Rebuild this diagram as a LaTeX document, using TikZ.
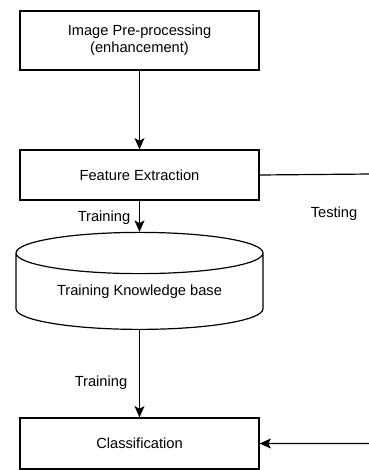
\documentclass[tikz,border=0pt]{standalone}
\usepackage{fontspec}
\setmainfont{Liberation Sans}
\usetikzlibrary{arrows.meta,shapes.geometric}
\tikzstyle{stage}=[draw,line width=0.9pt,minimum width=179.25pt,inner sep=0pt,font=\fontsize{11}{13}\selectfont,align=center]
\tikzstyle{store}=[draw,line width=0.9pt,cylinder,shape border rotate=90,aspect=0.25,minimum width=185.25pt,minimum height=72.75pt,inner sep=0pt,font=\fontsize{11}{13}\selectfont]
\tikzstyle{arrow}=[draw,line width=0.9pt,-{Stealth[length=8.5pt,width=7.5pt,inset=2pt]}]
\tikzstyle{flow}=[font=\fontsize{11}{13}\selectfont]

\begin{document}
\begin{tikzpicture}[x=0.75pt,y=-0.75pt]
    \useasboundingbox (0,0) rectangle (368,470);
    \node[stage,minimum height=44.25pt] (pre) at (139.5,40.5) {Image Pre-processing\\(enhancement)};
    \node[stage,minimum height=37.5pt] (fe) at (139.5,175) {Feature Extraction};
    \node[store] (kb) at (139.5,291.5) {Training Knowledge base};
    \node[stage,minimum height=38.25pt] (cls) at (139.5,443.5) {Classification};
    \coordinate (turn) at (372,174);
    \node[flow] (train1) at (104,218) {Training};
    \node[flow] (train2) at (101,383) {Training};
    \node[flow] (test) at (334,214) {Testing};
    \path[arrow] (pre) -- (fe);
    \path[arrow] (fe) -- (kb);
    \path[arrow] (kb) -- (cls);
    \path[arrow] (fe.east) -- (turn) |- (cls.east);
\end{tikzpicture}
\end{document}
